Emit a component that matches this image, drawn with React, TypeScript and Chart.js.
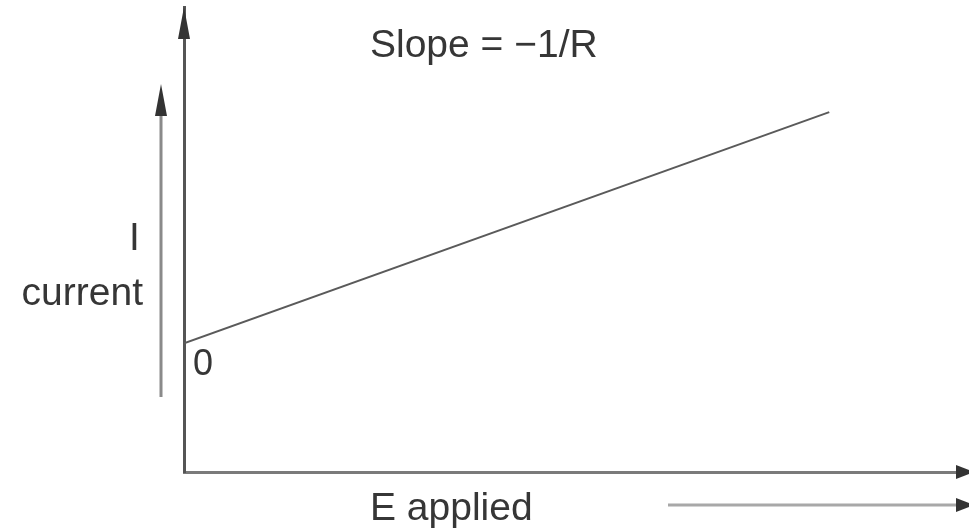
import React, { useEffect, useRef } from "react";
import { Chart, registerables } from "chart.js";

Chart.register(...registerables);

// Schematic I–E line (arbitrary units)
const eApplied = [0, 82.2];
const current = [27.7, 77.4];
const xRange = [0, 100];
const yRange = [0, 100];
const slopeLabel = "Slope = \u22121/R";
const xLabel = "E applied";
const yLabelTop = "I";
const yLabelBottom = "current";
const originLabel = "0";

const FONT = "'Liberation Sans', Arial, sans-serif";
const TEXT = "#363636";

function arrowUp(ctx: CanvasRenderingContext2D, x: number, tipY: number, len: number, half: number) {
  ctx.beginPath();
  ctx.moveTo(x, tipY);
  ctx.lineTo(x - half, tipY + len);
  ctx.lineTo(x + half, tipY + len);
  ctx.closePath();
  ctx.fill();
}
function arrowRight(ctx: CanvasRenderingContext2D, tipX: number, y: number, len: number, half: number) {
  ctx.beginPath();
  ctx.moveTo(tipX, y);
  ctx.lineTo(tipX - len, y - half);
  ctx.lineTo(tipX - len, y + half);
  ctx.closePath();
  ctx.fill();
}

const decorPlugin = {
  id: "decor",
  afterDraw(chart: any) {
    const ctx: CanvasRenderingContext2D = chart.ctx;
    const { left, right, top, bottom } = chart.chartArea;
    ctx.save();
    // secondary arrow beside the y axis
    ctx.strokeStyle = "#8a8a8a";
    ctx.lineWidth = 3;
    ctx.beginPath();
    ctx.moveTo(left - 23, 397);
    ctx.lineTo(left - 23, 100);
    ctx.stroke();
    // bottom arrow next to "E applied"
    ctx.strokeStyle = "#a8a8a8";
    ctx.lineWidth = 3;
    ctx.beginPath();
    ctx.moveTo(668, 505);
    ctx.lineTo(right - 8, 505);
    ctx.stroke();

    ctx.fillStyle = "#333";
    arrowUp(ctx, left, top, 32, 6);
    arrowUp(ctx, left - 23, 84, 32, 6);
    arrowRight(ctx, right + 5, bottom, 18, 7);
    arrowRight(ctx, right + 5, 505, 18, 7);

    ctx.fillStyle = TEXT;
    ctx.textBaseline = "alphabetic";
    ctx.font = `39px ${FONT}`;
    ctx.textAlign = "left";
    ctx.fillText(slopeLabel, 370, 57);
    ctx.fillText(xLabel, 370, 520);
    ctx.fillText(yLabelTop, 129, 250);
    ctx.textAlign = "right";
    ctx.fillText(yLabelBottom, 143, 305);
    ctx.textAlign = "left";
    ctx.font = `36px ${FONT}`;
    ctx.fillText(originLabel, 193, 375);
    ctx.restore();
  },
};

export default function App() {
  const ref = useRef<HTMLCanvasElement | null>(null);
  useEffect(() => {
    document.body.style.margin = "0";
    if (!ref.current) return;
    const chart = new Chart(ref.current, {
      type: "scatter",
      data: {
        datasets: [
          {
            data: eApplied.map((x, i) => ({ x, y: current[i] })),
            showLine: true,
            borderColor: "#5a5a5a",
            borderWidth: 2,
            pointRadius: 0,
            fill: false,
          },
        ],
      },
      options: {
        animation: false,
        responsive: false,
        layout: { padding: { left: 176, right: 0, top: 7, bottom: 49 } },
        plugins: { legend: { display: false }, tooltip: { enabled: false } },
        scales: {
          x: {
            type: "linear",
            min: xRange[0],
            max: xRange[1],
            grid: { display: false },
            ticks: { display: false },
            border: { display: true, color: "#7a7a7a", width: 3 },
          },
          y: {
            type: "linear",
            min: yRange[0],
            max: yRange[1],
            grid: { display: false },
            ticks: { display: false },
            border: { display: true, color: "#555", width: 3 },
          },
        },
      },
      plugins: [decorPlugin],
    });
    return () => chart.destroy();
  }, []);
  return (
    <div style={{ position: "absolute", left: 0, top: 0, width: 969, height: 529, background: "#fff" }}>
      <canvas ref={ref} width={969} height={529} style={{ display: "block" }} />
    </div>
  );
}
